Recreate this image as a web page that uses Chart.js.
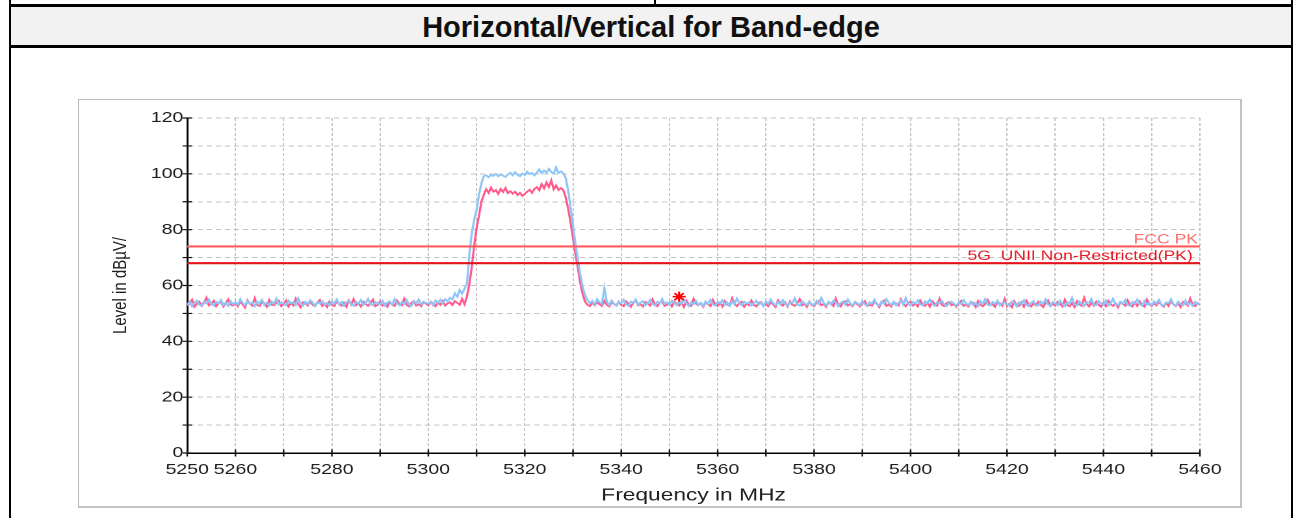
<!DOCTYPE html>
<html>
<head>
<meta charset="utf-8">
<script src="https://cdn.jsdelivr.net/npm/chart.js"></script>
<style>
  html, body { margin:0; padding:0; background:#fff; width:1300px; height:518px; overflow:hidden; }
  .blk { position:absolute; background:#000; }
  #titlebar { position:absolute; left:11px; top:7px; width:1280px; height:38px; background:#f2f2f2;
    font:bold 29px "Liberation Sans", Arial, sans-serif; color:#111; text-align:center; line-height:40px; }
  #box { position:absolute; left:78px; top:99px; width:1164px; height:409px; box-sizing:border-box;
    border-top:1px solid #bcbcbc; border-left:1px solid #bcbcbc; border-right:2px solid #c2c2c2; border-bottom:2px solid #c2c2c2; }
  #stretch { position:absolute; left:78px; top:99px; width:895px; height:409px; transform:scaleX(1.3); transform-origin:0 0; }
</style>
</head>
<body>
<div class="blk" style="left:9px;top:0;width:2px;height:518px"></div>
<div class="blk" style="left:1291px;top:0;width:2px;height:518px"></div>
<div class="blk" style="left:654px;top:0;width:2px;height:5px"></div>
<div class="blk" style="left:9px;top:4px;width:1284px;height:3px"></div>
<div id="titlebar">Horizontal/Vertical for Band-edge</div>
<div class="blk" style="left:9px;top:45px;width:1284px;height:3px"></div>
<div id="box"></div>
<div id="stretch"><canvas id="c" width="895" height="409"></canvas></div>
<script>
// ---- data ----
const freqStart = 5250;   // MHz, first sample
const freqStep = 0.5;     // MHz between samples
const xTickValues = [5250,5260,5270,5280,5290,5300,5310,5320,5330,5340,5350,5360,5370,5380,5390,5400,5410,5420,5430,5440,5450,5460];
const xLabelValues = [5250,5260,5280,5300,5320,5340,5360,5380,5400,5420,5440,5460];
const yTickValues = [0,10,20,30,40,50,60,70,80,90,100,110,120];
const yLabelValues = [0,20,40,60,80,100,120];

const verticalLevel = [ // light blue trace, dBuV
53.2,54.1,52.6,53.8,54.6,53.1,52.9,54.3,53.6,55.0,53.4,52.8,54.2,53.5,54.8,53.0,53.9,52.7,54.4,53.3,
54.0,53.2,55.1,53.7,52.9,54.5,53.4,53.9,52.6,54.2,53.6,54.9,53.1,53.8,52.8,54.3,53.5,55.3,53.2,54.0,
53.4,52.9,54.6,53.7,54.1,53.0,55.4,53.6,52.8,54.2,53.3,54.7,53.9,52.7,54.0,53.5,54.4,53.1,53.8,52.9,
54.3,53.6,55.0,53.2,54.1,52.8,53.9,54.6,53.3,52.7,54.2,53.5,54.8,53.0,53.7,55.2,53.4,52.9,54.1,53.6,
53.2,54.5,52.8,53.9,54.3,53.1,55.1,53.7,52.9,54.0,53.4,54.8,53.2,52.7,54.4,53.6,55.0,53.3,54.1,53.8,
53.5,54.2,52.9,54.6,53.8,54.9,53.6,55.1,54.3,55.6,55.0,57.2,56.0,58.4,57.1,58.8,60.5,71.0,78.5,83.5,
87.0,92.5,96.5,99.2,99.5,98.8,99.6,99.2,100.0,99.1,99.7,99.3,98.9,99.8,100.4,99.5,100.6,99.6,99.1,100.1,
99.6,100.8,99.9,100.3,99.4,100.5,101.6,100.2,101.2,100.4,101.8,100.6,100.1,102.3,100.3,100.9,100.2,98.5,94.0,88.0,
81.5,75.0,69.5,64.0,59.5,56.5,54.8,53.6,54.5,53.2,55.1,54.0,53.4,59.0,54.2,53.0,54.6,53.5,52.8,54.1,
53.6,54.9,53.2,52.7,54.3,53.8,55.0,53.1,53.9,54.4,52.9,53.7,54.8,53.3,52.8,54.2,53.6,55.2,53.4,54.0,
53.1,54.6,53.8,52.9,54.2,53.4,55.1,53.7,52.6,54.0,53.3,54.5,53.0,53.8,52.7,54.3,53.5,54.9,53.2,52.8,
54.1,53.6,54.7,53.0,53.9,52.7,54.4,53.3,55.3,53.8,52.9,54.2,53.5,54.0,52.8,53.7,54.6,53.1,53.9,52.6,
54.3,53.4,55.0,53.6,52.9,54.1,53.2,54.8,53.5,52.7,54.0,53.8,55.4,53.1,52.8,54.4,53.6,53.0,54.2,53.3,
52.9,54.5,53.4,55.6,53.7,52.8,54.1,53.2,54.6,53.9,52.6,53.8,54.3,53.1,55.0,53.5,52.9,54.2,53.6,53.0,
54.4,53.3,52.7,54.0,53.6,54.9,53.2,52.8,54.3,53.5,55.1,53.8,53.0,54.2,52.9,53.7,54.6,53.1,55.5,53.4,
52.8,54.1,53.5,54.7,53.2,52.9,54.3,53.6,55.0,53.3,52.7,54.0,53.8,54.5,53.1,52.6,53.9,54.2,53.4,52.8,
54.0,53.3,54.8,53.6,52.9,54.2,53.0,53.7,52.6,54.4,53.5,55.2,53.1,52.8,54.1,53.4,54.6,52.9,53.6,54.0,
53.2,52.7,54.3,53.8,52.5,54.0,53.3,54.7,53.0,52.6,53.9,54.4,53.1,52.8,54.2,53.5,55.0,53.2,52.7,54.1,
53.6,52.9,54.5,53.3,52.6,54.0,53.7,55.6,53.1,52.8,54.3,53.4,52.7,54.1,53.8,55.2,53.0,52.9,54.4,53.5,
53.1,54.6,52.8,53.7,55.3,53.2,52.9,54.2,53.5,54.8,53.0,52.7,54.1,53.6,55.0,53.3,52.8,54.4,53.1,53.8,
52.9,54.3,53.5,54.9,53.2,52.7,54.0,53.6,55.1,53.3,52.8,54.2,53.4,52.9,54.6,53.1,53.8,52.7,54.1,53.3,53.6
];

const horizontalLevel = [ // pink trace, dBuV
52.8,53.6,54.9,52.4,53.5,54.2,52.7,53.9,55.6,52.9,53.4,54.5,52.6,53.8,54.1,52.5,53.7,55.0,53.1,52.8,
53.9,52.6,54.3,53.2,52.1,54.7,53.5,52.8,55.4,53.0,52.7,54.1,53.6,52.4,54.8,53.1,52.9,53.8,54.5,52.6,
53.3,54.6,52.5,53.7,52.9,55.2,53.4,52.2,54.0,53.6,52.8,54.4,53.1,52.6,53.9,54.8,52.7,53.5,52.3,54.2,
53.0,52.6,54.5,53.3,52.8,53.9,52.4,54.7,53.2,55.1,52.9,53.6,52.5,54.2,53.4,52.7,53.8,54.9,52.6,53.1,
54.3,52.8,53.5,52.4,54.0,53.2,52.7,54.6,53.4,52.9,55.3,53.1,52.5,53.8,54.4,52.8,53.3,52.6,54.1,53.5,
52.9,54.2,53.4,52.6,53.9,53.1,54.5,52.8,53.6,54.0,53.0,54.4,53.8,53.1,55.2,53.3,56.0,60.5,66.5,74.0,
80.5,85.0,90.0,92.5,94.5,93.2,95.1,93.6,94.2,92.8,94.6,93.5,94.9,93.1,93.8,92.9,93.6,92.4,93.2,92.1,
92.8,93.6,94.3,93.2,94.6,95.2,94.1,96.3,94.8,96.9,95.3,97.6,94.5,95.8,94.2,94.9,94.1,91.5,87.5,82.5,
77.0,71.5,66.5,61.0,57.0,54.2,53.1,52.6,53.8,52.9,54.0,53.3,52.7,54.5,53.1,52.5,53.9,53.4,52.8,54.2,
53.0,52.6,54.3,53.5,52.4,53.8,54.7,52.9,53.3,52.5,54.1,53.6,52.8,55.0,53.2,52.6,53.9,54.4,52.7,53.1,
53.8,52.5,54.2,53.4,52.8,53.9,52.3,54.6,53.1,52.7,55.2,53.5,52.9,53.7,52.4,54.0,53.3,52.6,54.8,53.2,
52.7,53.9,52.5,54.4,53.1,52.8,55.4,53.3,52.6,53.7,54.2,52.4,53.5,52.9,54.6,53.0,52.5,53.8,54.1,52.7,
53.4,52.6,54.0,53.2,52.3,54.7,53.6,52.8,53.9,52.5,54.3,53.1,52.7,53.6,55.1,52.9,53.4,52.4,54.2,53.0,
52.6,53.8,54.5,52.9,53.3,52.4,54.1,53.6,52.7,55.3,53.0,52.5,53.9,54.3,52.8,53.4,52.6,54.0,53.2,52.5,
53.7,54.4,52.6,53.1,52.8,54.2,53.5,52.3,53.9,54.6,52.7,53.2,52.5,54.0,53.6,52.9,55.0,53.3,52.6,53.8,
54.2,52.8,53.4,52.5,54.6,53.1,52.7,53.9,52.4,54.3,53.5,52.8,55.2,53.0,52.6,53.7,54.1,52.9,53.3,52.4,
53.6,54.5,52.7,53.2,52.5,54.0,53.8,52.3,54.4,53.1,52.6,53.5,54.8,52.9,53.3,52.4,54.1,53.7,52.8,55.1,
52.6,53.4,52.2,54.3,53.0,52.7,53.9,52.4,54.6,53.2,52.5,53.6,52.9,54.2,53.1,52.3,53.8,54.7,52.6,53.4,
52.8,54.1,53.3,52.5,54.9,53.0,52.6,53.7,52.3,54.4,53.2,52.7,55.6,53.4,52.5,53.9,52.8,54.2,53.1,52.4,
53.8,52.6,54.5,53.2,52.7,53.6,52.2,54.0,53.4,52.8,54.7,53.1,52.5,53.9,52.7,54.3,53.0,52.4,55.0,53.3,
52.6,53.7,52.9,54.2,53.1,52.4,53.8,52.7,54.5,53.2,52.6,53.9,52.3,54.1,53.5,52.8,55.3,53.0,52.6,53.7,53.2
];

const limitNames = ['FCC PK', '5G  UNII Non-Restricted(PK)'];
const limitLevels = [74, 68];
const markerFreq = [5352];
const markerLevel = [56];

// ---- chart ----
const FONT = '"Liberation Sans", Arial, sans-serif';
Chart.defaults.font.family = FONT;

const toPts = arr => arr.map((y, i) => ({ x: freqStart + i * freqStep, y }));
const limitColors = ['#ff5a5a', '#e3121b'];
const limitTextColors = ['#ff6a6a', '#e41a22'];
const limitOffsets = [1.5, 5.5];

const tickMarks = {
  id: 'tickMarks',
  afterDraw(chart) {
    const { ctx, scales: { x, y }, chartArea } = chart;
    ctx.save();
    ctx.strokeStyle = '#111';
    ctx.lineWidth = 1.2;
    ctx.beginPath();
    xTickValues.forEach(v => {
      const px = x.getPixelForValue(v);
      ctx.moveTo(px, chartArea.bottom - 3.5);
      ctx.lineTo(px, chartArea.bottom + 3.5);
    });
    yTickValues.forEach(v => {
      const py = y.getPixelForValue(v);
      ctx.moveTo(chartArea.left - 3.6, py);
      ctx.lineTo(chartArea.left + 3.6, py);
    });
    ctx.stroke();
    ctx.restore();
  }
};

const limitLabels = {
  id: 'limitLabels',
  afterDatasetsDraw(chart) {
    const { ctx, scales: { y }, chartArea } = chart;
    ctx.save();
    ctx.font = '13.5px ' + FONT;
    ctx.textAlign = 'right';
    ctx.textBaseline = 'alphabetic';
    limitLevels.forEach((lv, k) => {
      ctx.fillStyle = limitTextColors[k];
      ctx.fillText(limitNames[k], chartArea.right - limitOffsets[k], y.getPixelForValue(lv) - 3);
    });
    ctx.restore();
  }
};

const datasets = [
  { label: 'marker', type: 'scatter', data: markerFreq.map((f, i) => ({ x: f, y: markerLevel[i] })),
    pointStyle: 'star', pointRadius: 5, pointBorderColor: '#ff0000', pointBorderWidth: 1.6,
    pointBackgroundColor: '#ff0000', showLine: false, order: 0 },
  ...limitLevels.map((lv, k) => ({
    label: limitNames[k], data: [{ x: 5250, y: lv }, { x: 5460, y: lv }],
    borderColor: limitColors[k], borderWidth: 2.2, pointRadius: 0, order: 1
  })),
  { label: 'Vertical', data: toPts(verticalLevel), borderColor: '#8fc5f7', borderWidth: 1.7, pointRadius: 0, order: 2 },
  { label: 'Horizontal', data: toPts(horizontalLevel), borderColor: '#ff5a8c', borderWidth: 1.7, pointRadius: 0, order: 3 }
];

new Chart(document.getElementById('c'), {
  type: 'line',
  data: { datasets },
  options: {
    responsive: false,
    animation: false,
    devicePixelRatio: 2,
    layout: { padding: { left: 24, right: 32, top: 19, bottom: 0 } },
    plugins: { legend: { display: false }, tooltip: { enabled: false } },
    scales: {
      x: {
        type: 'linear', min: 5250, max: 5460,
        afterBuildTicks: s => { s.ticks = xTickValues.map(v => ({ value: v })); },
        afterFit: s => { s.height = 55; },
        ticks: {
          autoSkip: false, maxRotation: 0, minRotation: 0, padding: 8, color: '#1e1e1e',
          font: { size: 15 },
          callback: v => xLabelValues.includes(v) ? String(v) : ''
        },
        grid: { color: '#c3c3c3', lineWidth: 1, drawTicks: false },
        border: { display: true, color: '#000', width: 1.5, dash: [3, 2] },
        title: { display: true, text: 'Frequency in MHz', color: '#1e1e1e', font: { size: 17.5 }, padding: { top: 0, bottom: 2 } }
      },
      y: {
        min: 0, max: 120,
        afterBuildTicks: s => { s.ticks = yTickValues.map(v => ({ value: v })); },
        afterFit: s => { s.width = 60; },
        ticks: {
          autoSkip: false, padding: 3, color: '#1e1e1e', font: { size: 15 },
          callback: v => yLabelValues.includes(v) ? String(v) : ''
        },
        grid: { color: '#c3c3c3', lineWidth: 1, drawTicks: false },
        border: { display: true, color: '#000', width: 1.5, dash: [4, 3] },
        title: { display: true, text: 'Level in dBµV/', color: '#1e1e1e', font: { size: 15 }, padding: { top: 0, bottom: 0 } }
      }
    }
  },
  plugins: [tickMarks, limitLabels]
});
</script>
</body>
</html>
